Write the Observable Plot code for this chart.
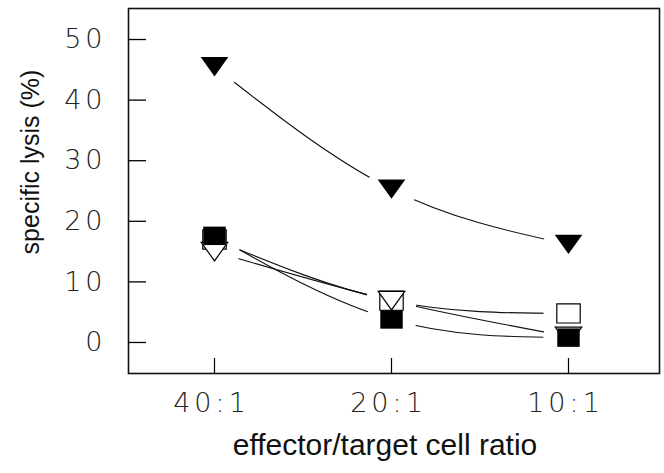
<!DOCTYPE html>
<html>
<head>
<meta charset="utf-8">
<script src="https://cdn.jsdelivr.net/npm/d3@7"></script>
<script src="https://cdn.jsdelivr.net/npm/@observablehq/plot@0.6"></script>
<style>
  html, body { margin: 0; padding: 0; background: #fff; }
  g[aria-label$="tick label"] text {
    font-family: "DejaVu Sans", sans-serif;
    font-weight: 200;
    font-size: 27px;
    letter-spacing: 4px;
  }
  .title text { font-family: "Liberation Sans", Arial, sans-serif; }
</style>
</head>
<body>
<div id="chart"></div>
<script>
// ---- data ----
const ratios = ["40:1", "20:1", "10:1"];
const filledTriangle = [45.5, 25.3, 16.2];
const openTriangle = [15.0, 6.9, 1.0];
const openSquare = [17.0, 6.9, 4.8];
const filledSquare = [17.6, 3.8, 0.8];
const yTicks = [0, 10, 20, 30, 40, 50];
const xTitle = "effector/target cell ratio";
const yTitle = "specific lysis (%)";

const seriesList = [
  {name: "openSquare", values: openSquare},
  {name: "openTriangle", values: openTriangle},
  {name: "filledTriangle", values: filledTriangle},
  {name: "filledSquare", values: filledSquare}
];
const rows = seriesList.flatMap(s => ratios.map((r, i) => ({series: s.name, ratio: r, value: s.values[i]})));
const only = name => rows.filter(d => d.series === name);

// custom symbols
const triDown = {draw(ctx, size) {
  const r = Math.sqrt(size / Math.PI);
  ctx.moveTo(-1.33 * r, -0.93 * r);
  ctx.lineTo(1.33 * r, -0.93 * r);
  ctx.lineTo(0, 0.93 * r);
  ctx.closePath();
}};
const rectSym = {draw(ctx, size) {
  const r = Math.sqrt(size / Math.PI);
  ctx.rect(-1.17 * r, -0.96 * r, 2.34 * r, 1.92 * r);
}};

const chart = Plot.plot({
  width: 664,
  height: 473,
  marginTop: 8,
  marginBottom: 100,
  marginLeft: 128,
  marginRight: 5,
  x: {type: "point", domain: ratios, range: [213, 568], padding: 0, axis: null},
  y: {domain: [-5.12, 55.12], axis: null},
  marks: [
    Plot.line(rows, {x: "ratio", y: "value", z: "series", curve: "natural", stroke: "#111", strokeWidth: 1.1}),
    Plot.dot(rows, {x: "ratio", y: "value", r: 25, fill: "white", stroke: null}),
    Plot.dot(only("openSquare"), {x: "ratio", y: "value", symbol: rectSym, r: 10, fill: "white", stroke: "#000", strokeWidth: 1.2}),
    Plot.dot(only("openTriangle"), {x: "ratio", y: "value", symbol: triDown, r: 10, fill: "white", stroke: "#000", strokeWidth: 1.2}),
    Plot.dot(only("filledTriangle"), {x: "ratio", y: "value", symbol: triDown, r: 10.4, fill: "#000", stroke: null}),
    Plot.dot(only("filledSquare"), {x: "ratio", y: "value", symbol: rectSym, r: 9.6, fill: "#000", stroke: null}),
    Plot.frame({stroke: "#111", strokeWidth: 1.6}),
    Plot.axisY(yTicks, {anchor: "left", tickSize: -18, tickFormat: () => "", label: null, strokeWidth: 1.3}),
    Plot.axisY(yTicks, {anchor: "left", tickSize: 0, tickPadding: 22, label: null, fill: "#222"}),
    Plot.axisX(ratios, {anchor: "bottom", tickSize: -15, tickFormat: () => "", label: null, strokeWidth: 1.2}),
    Plot.axisX(ratios, {anchor: "bottom", tickSize: 0, tickPadding: 19, dx: -3, label: null, fill: "#222"}),
    Plot.text([xTitle], {frameAnchor: "bottom", dy: 72, dx: -9, text: d => d, fontSize: 30, fill: "#111", lineAnchor: "middle", className: "title"}),
    Plot.text([yTitle], {frameAnchor: "left", rotate: -90, dx: -98, dy: -29, text: d => d, fontSize: 25, fill: "#111", textAnchor: "middle", lineAnchor: "middle", className: "title"})
  ]
});
document.getElementById("chart").appendChild(chart);
</script>
</body>
</html>
